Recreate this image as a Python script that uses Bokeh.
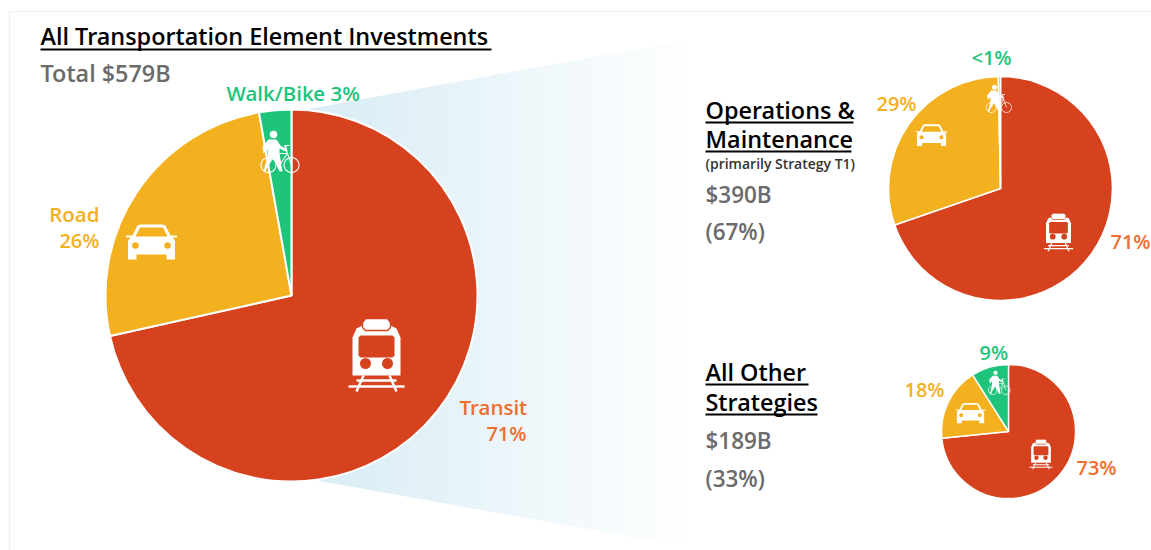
import math
from bokeh.plotting import figure
from bokeh.models import Range1d
from bokeh.core.properties import value
from bokeh.embed import file_html
from bokeh.resources import INLINE

# ---- data ----
categories = ["Transit", "Road", "Walk/Bike"]
all_values = [71.5, 25.7, 2.8]
ops_values = [69.7, 30, 0.3]
other_values = [73.4, 17.6, 9]
all_labels = ["Transit", "71%", "Road", "26%", "Walk/Bike 3%"]
ops_labels = ["71%", "29%", "<1%"]
other_labels = ["73%", "18%", "9%"]

RED, ORANGE, GREEN = "#D7421E", "#F3B01F", "#1FC47B"
slice_colors = [RED, ORANGE, GREEN]
T_ORANGE = "#EE6E2E"
GREY = "#6B6B6B"
FONT = "Open Sans SemiBold"

W, H = 1151, 550
p = figure(width=W, height=H, x_range=Range1d(0, W), y_range=Range1d(H, 0),
           x_axis_type=None, y_axis_type=None, toolbar_location=None,
           output_backend="svg", min_border=0, outline_line_color=None)
p.grid.visible = False

# panel edge
p.segment([9, 9], [11, 11], [1151, 9], [11, 550], line_color="#F1F1F1", line_width=1.5)

# zoom gradient wedge
def top(x): return 110 - 0.183 * (x - 300)
def bot(x): return 481 + 0.179 * (x - 322)
xs, ys, cols = [], [], []
c0 = (0xDB, 0xEE, 0xF5)
step = 10
for i in range(0, 41):
    a = 291 + i * step
    b = a + step + 0.6
    t = min(1, max(0, (a - 340) / 350))
    c = tuple(int(round(v + (255 - v) * t)) for v in c0)
    xs.append([a, b, b, a])
    ys.append([top(a), top(b), bot(b), bot(a)])
    cols.append("#%02x%02x%02x" % c)
p.patches(xs, ys, fill_color=cols, line_color=None)


def pie(cx, cy, r, vals, lw=1.6):
    total = sum(vals)
    ang = math.pi / 2
    for v, col in zip(vals, slice_colors):
        end = ang - 2 * math.pi * v / total
        p.wedge([cx], [cy], radius=r, start_angle=end, end_angle=ang,
                fill_color=col, line_color="white", line_width=lw)
        ang = end


pie(291, 295, 186, all_values, 2)
pie(1000, 188, 112, ops_values, 1.6)
pie(1008, 431, 67, other_values, 1.4)


def car(cx, cy, w, bg):
    s = w / 50
    X = lambda a: [cx + v * s for v in a]
    Y = lambda a: [cy + v * s for v in a]
    p.patch(X([-23.5, -23.5, -21, -25.5, -25.5, -19, -14, -11, 11, 14, 19, 25.5, 25.5, 21, 23.5, 23.5, 15, 15, -15, -15]),
            Y([17, -2, -5, -5, -7, -7, -17, -18, -18, -17, -7, -7, -5, -5, -2, 17, 17, 12, 12, 17]),
            fill_color="white", line_color=None)
    p.patch(X([-16, -11.5, 11.5, 16]), Y([-6, -15, -15, -6]), fill_color=bg, line_color=None)
    p.scatter(X([-16, 16]), Y([3, 3]), size=6.6 * s, marker="circle", fill_color=bg, line_color=None)


def train(cx, cy, h, bg):
    s = h / 73
    X = lambda a: [cx + v * s for v in a]
    Y = lambda a: [cy + v * s for v in a]
    p.patch(X([-24, -24, -20, -14, 14, 20, 24, 24]), Y([20, -18, -27, -30, -30, -27, -18, 20]),
            fill_color="white", line_color=None)
    p.patch(X([-14, -11, 11, 14, 14, 11, -11, -14]), Y([-33, -37, -37, -33, -28, -25, -25, -28]),
            fill_color="white", line_color=bg, line_width=max(0.7, 1.4 * s))
    p.patch(X([-18, -16, 16, 18, 18, 16, -16, -18]), Y([-18, -20, -20, -18, 0, 2, 2, 0]),
            fill_color=bg, line_color=None)
    p.scatter(X([-11, 11]), Y([8, 8]), size=11 * s, marker="circle", fill_color=bg, line_color=None)
    lw = max(0.9, 2.4 * s)
    p.segment(X([-13, 13, -28, -20]), Y([20, 20, 31, 25]), X([-20, 20, 28, 20]), Y([36, 36, 31, 25]),
              line_color="white", line_width=lw)


def walker(cx, cy, h, fg="white"):
    s = h / 42
    X = lambda a: [cx + v * s for v in a]
    Y = lambda a: [cy + v * s for v in a]
    lw = max(0.7, 1.1 * s)
    p.scatter(X([0]), Y([-17]), size=7.5 * s, marker="circle", fill_color=fg, line_color=None)
    p.patch(X([-5, 3, 7, 13, 12, 6, 6, 9, 6, 0, -2, -8, -10, -6, -6, -10, -11]),
            Y([-12, -12, -6, -2, 0, -3, 2, 20, 20, 7, 7, 20, 20, 5, -2, 2, -5]),
            fill_color=fg, line_color=None)
    th = [i * 2 * math.pi / 24 for i in range(25)]
    for wx in (-5, 18):
        p.line(X([wx + 7.5 * math.cos(t) for t in th]), Y([13.5 + 7.5 * math.sin(t) for t in th]),
               line_color=fg, line_width=lw)
    p.line(X([-5, 2, 14, 18]), Y([13.5, 2, 2, 13.5]), line_color=fg, line_width=lw)
    p.line(X([2, 6, 14]), Y([2, 13.5, 2]), line_color=fg, line_width=lw)
    p.line(X([12, 14, 11, 16]), Y([-6, 2, -6, -6]), line_color=fg, line_width=lw)


car(151, 242, 50, ORANGE)
car(931, 135, 31, ORANGE)
car(970, 413, 29, ORANGE)
train(376, 355, 73, RED)
train(1058, 232, 38, RED)
train(1040.5, 454, 30, RED)
walker(273, 151, 42)
walker(994, 98, 28)
walker(995, 382, 24)


def txt(x, y, s, color, size, align="left"):
    p.text([x], [y - 0.36 * size], text=[s], text_color=color, text_font=value(FONT),
           text_font_size=f"{size}px", text_align=align, text_baseline="middle")


def ul(x0, x1, y):
    p.segment([x0], [y], [x1], [y], line_color="black", line_width=2)


txt(40, 44, "All Transportation Element Investments", "black", 23.4)
ul(40, 491, 49)
txt(40, 81, "Total $579B", GREY, 23.4)
txt(226, 99.5, all_labels[4], GREEN, 20.5)
txt(99, 221, all_labels[2], ORANGE, 20.5, "right")
txt(99, 247, all_labels[3], ORANGE, 20, "right")
txt(459, 414, all_labels[0], T_ORANGE, 20.5)
txt(526, 440, all_labels[1], T_ORANGE, 20, "right")

txt(705, 118, "Operations &", "black", 23.4)
ul(705, 853, 122)
txt(705, 147, "Maintenance", "black", 23.4)
ul(705, 851, 151)
txt(705, 168, "(primarily Strategy T1)", "#333333", 14)
txt(705, 202, "$390B", GREY, 22.5)
txt(705, 239, "(67%)", GREY, 22.5)

txt(705, 380, "All Other", "black", 23.4)
ul(705, 808, 384)
txt(705, 410, "Strategies", "black", 23.4)
ul(705, 817, 414)
txt(705, 448, "$189B", GREY, 22.5)
txt(705, 486, "(33%)", GREY, 22.5)

txt(1110, 248, ops_labels[0], T_ORANGE, 20)
txt(876, 110, ops_labels[1], ORANGE, 20)
txt(971, 64, ops_labels[2], GREEN, 20)
txt(1076, 474, other_labels[0], T_ORANGE, 20)
txt(904, 396, other_labels[1], ORANGE, 20)
txt(979, 359.5, other_labels[2], GREEN, 20)

open("out.html", "w").write(file_html(p, INLINE))
